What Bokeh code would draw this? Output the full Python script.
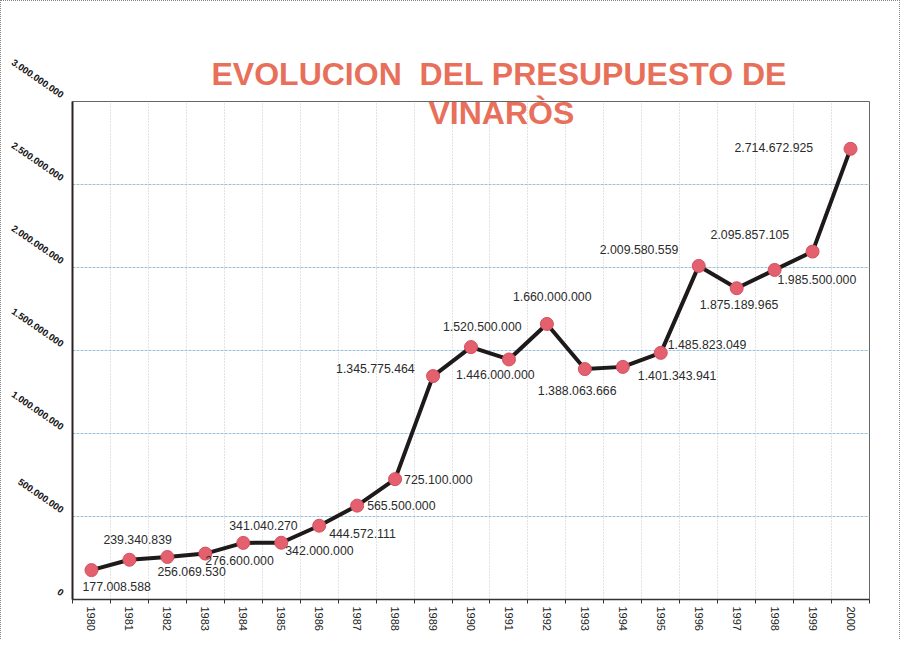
from bokeh.plotting import figure
from bokeh.models import ColumnDataSource, Range1d, FixedTicker, Title
from bokeh.core.properties import value
from bokeh.embed import file_html
from bokeh.resources import INLINE

# ---- data ----
years = [1980, 1981, 1982, 1983, 1984, 1985, 1986, 1987, 1988, 1989, 1990,
         1991, 1992, 1993, 1994, 1995, 1996, 1997, 1998, 1999, 2000]
budget = [177008588, 239340839, 256069530, 276600000, 341040270, 342000000,
          444572111, 565500000, 725100000, 1345775464, 1520500000, 1446000000,
          1660000000, 1388063666, 1401343941, 1485823049, 2009580559,
          1875189965, 1985500000, 2095857105, 2714672925]
y_ticks = [0, 500000000, 1000000000, 1500000000, 2000000000, 2500000000, 3000000000]
y_tick_labels = ["0", "500.000.000", "1.000.000.000", "1.500.000.000",
                 "2.000.000.000", "2.500.000.000", "3.000.000.000"]
title_lines = ["EVOLUCION\u00a0 DEL PRESUPUESTO DE", "VINARÒS"]

# ---- label placement (screen px offsets from each marker) ----
label_dx = [-9, -26, -10, 0, -14, 4, 10, 10, 9, -97, -28, -53, -34, -47, 15, 7, -99, -37, 3, -102, -116]
label_dy = [16, -20, 15, 7, -17, 8, 8, 0, 0, -8, -21, 15, -27, 21, 9, -8, -16, 16, 10, -17, -1]

labels = [f"{v:,}".replace(",", ".") for v in budget]
src = ColumnDataSource(dict(x=years, y=budget, label=labels, dx=label_dx, dy=label_dy))

FONT = "Liberation Sans"
TITLE_COLOR = "#E8705B"
W, H = 900, 639
p = figure(width=W, height=H, output_backend="svg", toolbar_location=None,
           title_location=None,
           x_range=Range1d(years[0] - 0.5, years[-1] + 0.5),
           y_range=Range1d(y_ticks[0], y_ticks[-1]),
           min_border_left=71, min_border_right=32, min_border_top=100, min_border_bottom=41)
p.background_fill_color = "white"
p.border_fill_color = "white"
p.outline_line_color = "#666666"
p.outline_line_width = 1
p.styles = {"border-left": "1px dotted #8a817c", "border-right": "1px dotted #8a817c",
            "border-top": "1px dotted #8a817c"}

# titles: second line (closest to the frame, overlapping it), then first line
t2 = Title(text=title_lines[1], align="left", offset=356, standoff=-58,
           text_font=FONT, text_font_style="bold", text_font_size="32px",
           text_color=TITLE_COLOR)
t1 = Title(text=title_lines[0], align="left", offset=139, standoff=20,
           text_font=FONT, text_font_style="bold", text_font_size="32px",
           text_color=TITLE_COLOR)
p.add_layout(t2, "above")
p.add_layout(t1, "above")

bounds = [y - 0.5 for y in years] + [years[-1] + 0.5]

# x axis
p.xaxis.ticker = FixedTicker(ticks=years, minor_ticks=bounds)
p.xaxis.major_tick_out = 0
p.xaxis.major_tick_in = 0
p.xaxis.minor_tick_out = 4
p.xaxis.minor_tick_in = 0
p.xaxis.minor_tick_line_color = "#333333"
p.xaxis.axis_line_color = "#333333"
p.xaxis.axis_line_width = 1.5
p.xaxis.major_label_orientation = "vertical"
p.xaxis.major_label_text_font = FONT
p.xaxis.major_label_text_font_size = "11px"
p.xaxis.major_label_text_color = "#222222"
p.xaxis.major_label_standoff = 3

# y axis
p.yaxis.ticker = FixedTicker(ticks=y_ticks)
p.yaxis.major_label_overrides = {t: s + "\u00a0" * 4 for t, s in zip(y_ticks, y_tick_labels)}
p.yaxis.major_label_orientation = -0.6
p.yaxis.major_label_text_font = FONT
p.yaxis.major_label_text_font_style = "bold"
p.yaxis.major_label_text_font_size = "9.5px"
p.yaxis.major_label_text_color = "#111111"
p.yaxis.major_tick_out = 0
p.yaxis.major_tick_in = 0
p.yaxis.minor_tick_line_color = None
p.yaxis.axis_line_color = "#2a2220"
p.yaxis.axis_line_width = 2
p.yaxis.major_label_standoff = 1

# grids
p.xgrid.ticker = FixedTicker(ticks=bounds)
p.xgrid.grid_line_color = "#c4c4c4"
p.xgrid.grid_line_dash = "1 2"
p.xgrid.grid_line_width = 1
p.ygrid.grid_line_color = "#9cc3de"
p.ygrid.grid_line_dash = "3 1"
p.ygrid.grid_line_width = 1

# series
p.line(x="x", y="y", source=src, line_color="#1f1a1a", line_width=4)
p.scatter(x="x", y="y", source=src, size=13, fill_color="#E5606E",
          line_color="#d2505e", line_width=1)
p.text(x="x", y="y", text="label", x_offset="dx", y_offset="dy", source=src,
       text_align="left", text_baseline="middle", text_font=value(FONT),
       text_font_size="12.3px", text_color="#2b2b2b")

open("out.html", "w").write(file_html(p, INLINE))
